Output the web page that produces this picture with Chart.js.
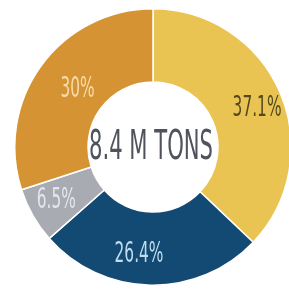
<!DOCTYPE html>
<html>
<head>
<meta charset="utf-8">
<script src="https://cdn.jsdelivr.net/npm/chart.js@4"></script>
<style>
  html, body { margin: 0; padding: 0; background: #fff; overflow: hidden; width: 289px; height: 290px; }
  #donut { position: absolute; left: 14px; top: 8px; }
</style>
</head>
<body>
<canvas id="donut" width="278" height="278"></canvas>
<script>
// data
const categories = ['A', 'B', 'C', 'D'];
const shares = [37.1, 26.4, 6.5, 30];
const shareLabels = ['37.1%', '26.4%', '6.5%', '30%'];
const centerText = '8.4 M TONS';

// styling
const sliceColors = ['#EAC452', '#134A73', '#A9ABB3', '#D69334'];
const labelColors = ['#54481F', '#C2DCEE', '#E4E6EC', '#F6DDAA'];
const labelNudge = [[7, 3], [-12, 2], [-5, 1], [10, 5]];

// condensed look: draw text squeezed horizontally
function squeezeText(ctx, text, x, y, sx) {
  ctx.save();
  ctx.translate(x, y);
  ctx.scale(sx, 1);
  ctx.fillText(text, 0, 0);
  ctx.restore();
}

const donutText = {
  id: 'donutText',
  afterDatasetsDraw(chart) {
    const ctx = chart.ctx;
    const arcs = chart.getDatasetMeta(0).data;
    ctx.save();
    ctx.textAlign = 'center';
    ctx.textBaseline = 'middle';

    // slice labels
    ctx.font = '28px "DejaVu Sans"';
    arcs.forEach((arc, i) => {
      const p = arc.getProps(['x', 'y', 'startAngle', 'endAngle', 'innerRadius', 'outerRadius'], true);
      const mid = (p.startAngle + p.endAngle) / 2;
      const r = (p.innerRadius + p.outerRadius) / 2 + 4;
      ctx.fillStyle = labelColors[i];
      squeezeText(ctx, shareLabels[i],
        p.x + Math.cos(mid) * r + labelNudge[i][0],
        p.y + Math.sin(mid) * r + labelNudge[i][1], 0.55);
    });

    // center total
    const c = arcs[0];
    ctx.font = '40px "DejaVu Sans"';
    ctx.fillStyle = '#4F545C';
    const w = ctx.measureText(centerText).width;
    squeezeText(ctx, centerText, c.x - 2, c.y + 2, 124 / w);
    ctx.restore();
  }
};

new Chart(document.getElementById('donut'), {
  type: 'doughnut',
  data: {
    labels: categories,
    datasets: [{
      data: shares,
      backgroundColor: sliceColors,
      borderColor: '#ffffff',
      borderWidth: 1.5
    }]
  },
  options: {
    responsive: false,
    animation: false,
    cutout: '47%',
    layout: { padding: 0 },
    plugins: {
      legend: { display: false },
      tooltip: { enabled: false }
    }
  },
  plugins: [donutText]
});
</script>
</body>
</html>
